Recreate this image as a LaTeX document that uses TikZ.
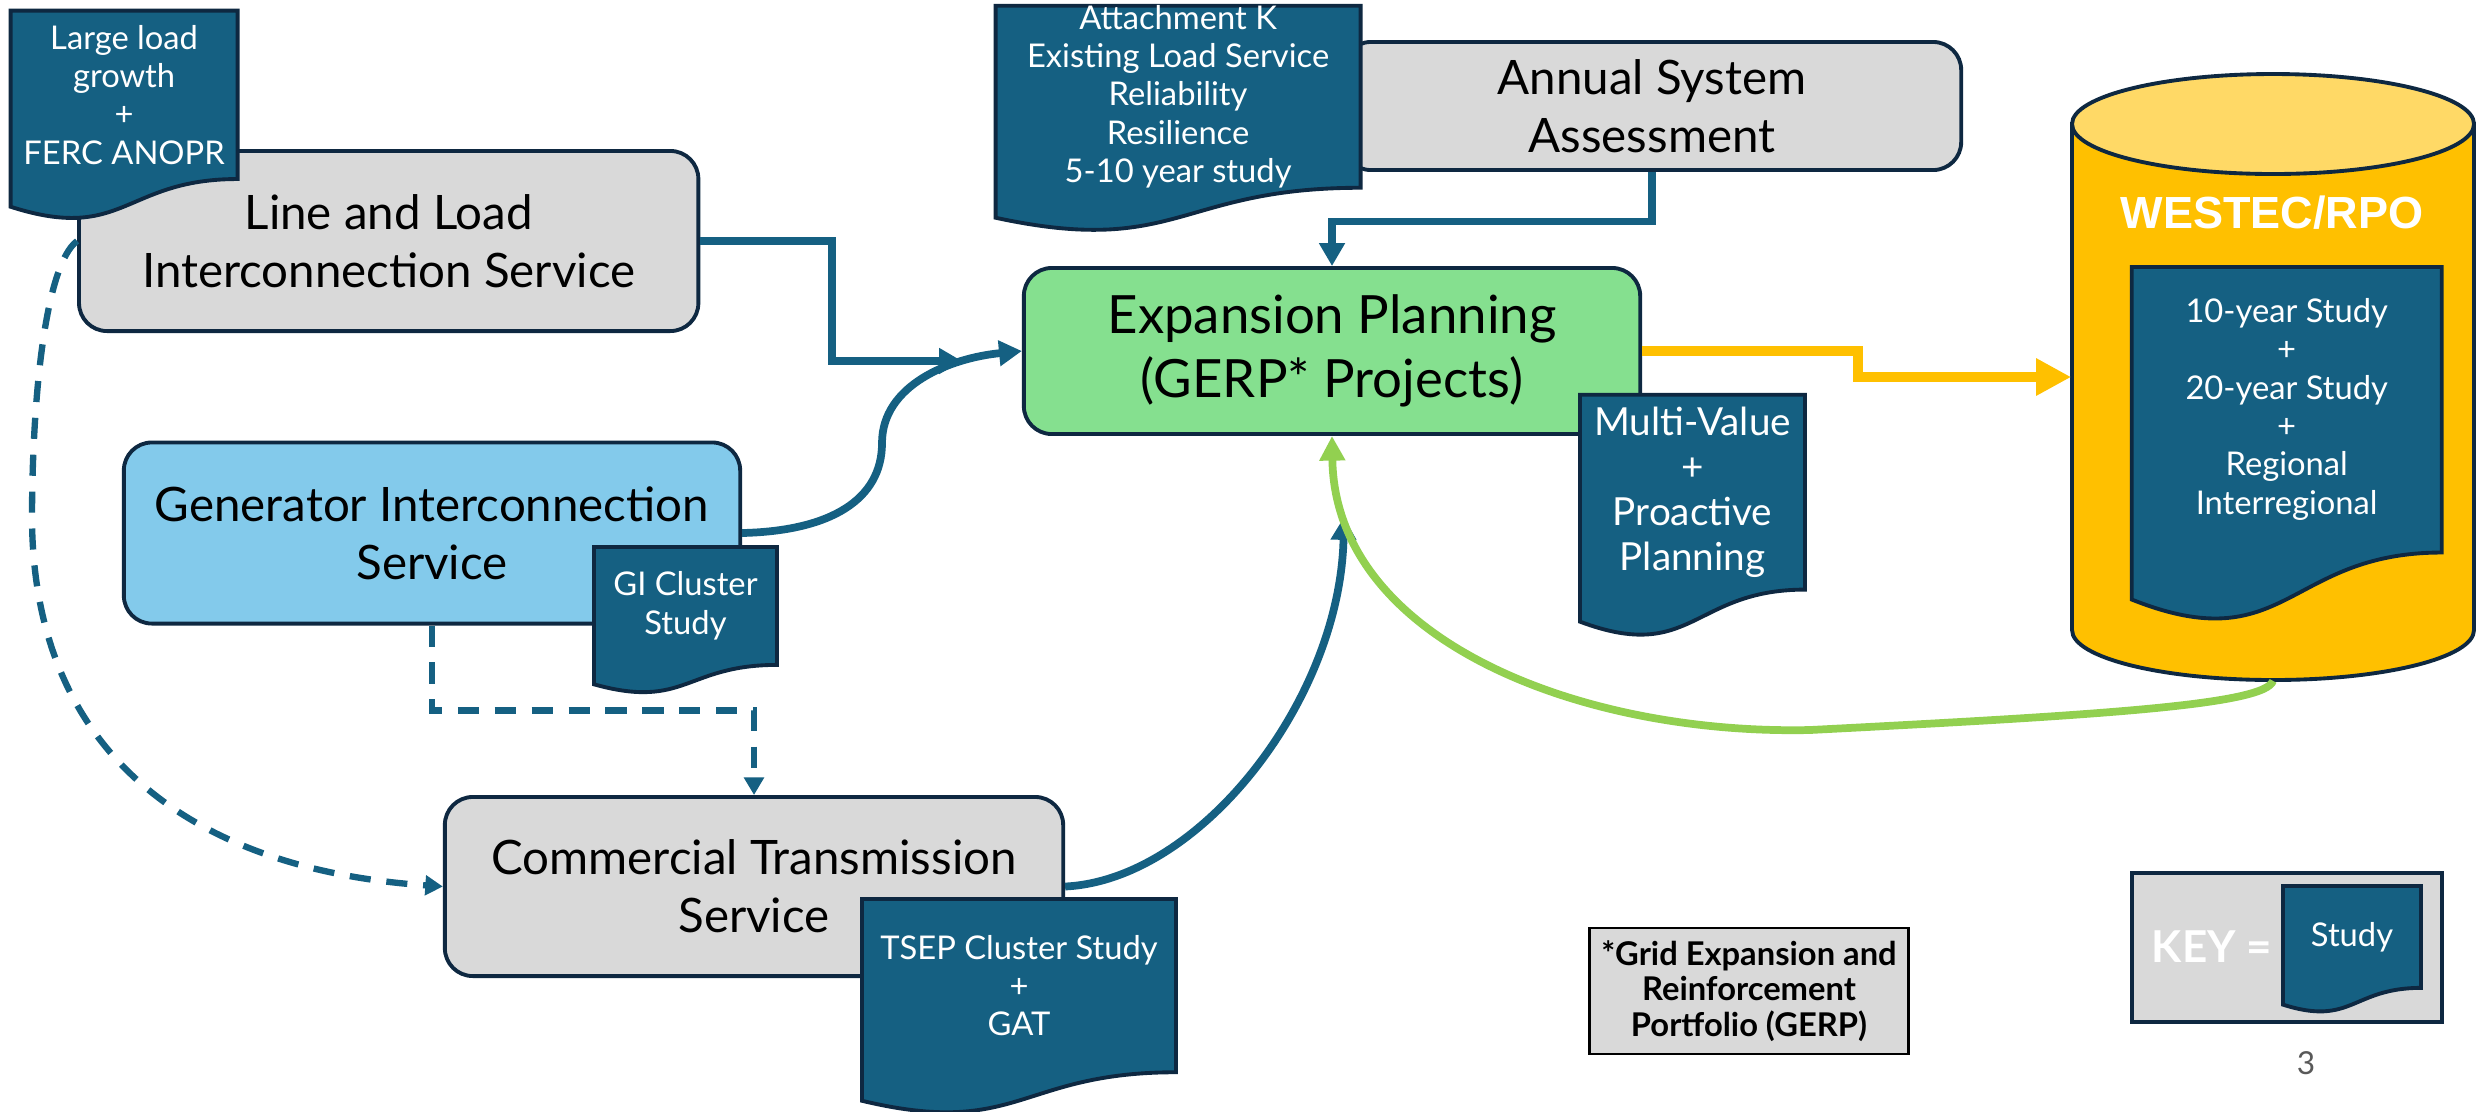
\documentclass[tikz,border=0pt]{standalone}
\usepackage{fontspec}
\usepackage{xcolor}
\setmainfont{Lato}
\newfontfamily\headfont{Liberation Sans}
\usetikzlibrary{arrows.meta}
\definecolor{NavyLine}{HTML}{0E2841}
\definecolor{StudyTeal}{HTML}{156082}
\definecolor{PanelGray}{HTML}{D9D9D9}
\definecolor{GenBlue}{HTML}{83CAEB}
\definecolor{PlanGreen}{HTML}{85E08F}
\definecolor{RpoGold}{HTML}{FFC000}
\definecolor{RpoTop}{HTML}{FFD966}
\definecolor{LoopGreen}{HTML}{92D050}
\definecolor{PageGray}{HTML}{595959}

\tikzset{
  service/.style={
    rounded corners=0.28cm,
    fill=PanelGray,
    draw=NavyLine,
    line width=1.1pt,
    inner sep=0pt,
    minimum width=6.18cm,
    align=center,
    font=\fontsize{13.5}{16.5}\selectfont
  },
  docshape/.style={fill=StudyTeal, draw=NavyLine, line width=1.1pt},
  doctext/.style={text=white, inner sep=0pt, align=center, font=\fontsize{9.3}{10.9}\selectfont},
  flow/.style={draw=StudyTeal, line width=2.2pt, -{Triangle[length=6.5pt,width=7pt]}},
  dashflow/.style={draw=StudyTeal, line width=1.8pt, dash pattern=on 6pt off 4.5pt, -{Triangle[length=5pt,width=5.5pt]}}
}

% study sheet: [text options]{name}{left}{top}{width}{height}{text}
\newcommand{\studydoc}[7][]{%
  \filldraw[docshape] (#3,#4) -- ({#3+#5},#4) -- ({#3+#5},{#4+0.802*#6})
    .. controls ({#3+0.5*#5},{#4+0.802*#6}) and ({#3+0.5*#5},{#4+1.1075*#6}) .. (#3,{#4+0.934*#6}) -- cycle;
  \node[doctext,#1] (#2) at ({#3+0.5*#5},{#4+0.4*#6}) {#7};
}

\begin{document}
\begin{tikzpicture}[x=0.01cm, y=-0.01cm]
    \fill[white] (0,0) rectangle (2476,1111);
    \useasboundingbox (0,0) rectangle (2476,1111);

    \node[service, minimum width=6.19cm, minimum height=1.80cm] (lineload) at (388.7,241) {Line and Load\\Interconnection Service};
    \node[service, minimum height=1.28cm] (annual) at (1652,106) {Annual System\\Assessment};
    \node[service, fill=GenBlue, minimum width=6.16cm, minimum height=1.81cm] (genint) at (432,533) {Generator Interconnection\\Service};
    \node[service, minimum height=1.79cm] (commtx) at (754,886.5) {Commercial Transmission\\Service};
    \node[
      service,
      fill=PlanGreen,
      minimum width=6.16cm,
      minimum height=1.66cm,
      font=\fontsize{15}{18.2}\selectfont
    ] (expplan) at (1332,351) {Expansion Planning\\(GERP* Projects)};

    \filldraw[fill=RpoGold, draw=NavyLine, line width=1.1pt] (2072,124) -- (2072,630)
      arc[start angle=180, end angle=0, x radius=201, y radius=50] -- (2474,124) -- cycle;
    \filldraw[fill=RpoTop, draw=NavyLine, line width=1.1pt] (2273,124) ellipse [x radius=201, y radius=50];
    \node[inner sep=0pt, minimum width=4.02cm, minimum height=6.06cm] (westec) at (2273,377) {};
    \node[text=white, font=\headfont\bfseries\fontsize{12.8}{15}\selectfont] (rpotitle) at (2272,213) {WESTEC/RPO};
    \studydoc{rpostudy}{2131.7}{267}{310}{356}{10-year Study\\+\\20-year Study\\+\\Regional\\Interregional}

    \studydoc{loadgrowth}{10.6}{10.6}{227}{210}{Large load\\growth\\+\\FERC ANOPR}
    \studydoc{attachk}{995.6}{5.7}{365}{227}{Attachment K\\Existing Load Service\\Reliability\\Resilience\\5-10 year study}
    \studydoc{gicluster}{594}{547}{183}{147}{GI Cluster\\Study}
    \studydoc[font=\fontsize{11}{12.8}\selectfont]{multivalue}{1580}{394.7}{225}{243}{Multi-Value\\+\\Proactive\\Planning}
    \studydoc{tsep}{862}{899}{314}{216}{TSEP Cluster Study\\+\\GAT}

    \node[
      fill=PanelGray,
      draw=black,
      line width=0.7pt,
      minimum width=3.14cm,
      minimum height=1.26cm,
      align=center,
      font=\bfseries\fontsize{9.3}{10}\selectfont
    ] (gerpnote) at (1749,991) {*Grid Expansion and\\Reinforcement\\Portfolio (GERP)};

    \node[fill=PanelGray, draw=NavyLine, line width=1.1pt, minimum width=3.10cm, minimum height=1.49cm] (keybox) at (2287,947.5) {};
    \node[text=white, font=\bfseries\fontsize{12.5}{15}\selectfont] (keylabel) at (2212,947) {KEY =};
    \studydoc{keydoc}{2283}{886}{138}{127}{Study}
    \node[text=PageGray, font=\fontsize{9}{11}\selectfont] (pagenum) at (2306,1063) {3};

    \coordinate (lineend) at (962,361);
    \coordinate (tsepend) at (1344,517);
    \draw[flow] (lineload.east) -- ++(132,0) |- (lineend);
    \draw[flow] (genint.east) .. controls (830,531) and (882,500) .. (882,443)
      .. controls (882,385) and (950,358) .. (expplan.west);
    \draw[flow] (annual.south) -- ++(0,49.5) -| (expplan.north);
    \draw[flow] (commtx.east) .. controls (1200,880) and (1340,700) .. (tsepend);
    \draw[dashflow] (genint.south) -- ++(0,85) -| (commtx.north);
    \draw[dashflow] (lineload.west) .. controls (45,265) and (32,400) .. (32,520)
      .. controls (34,760) and (200,870) .. (commtx.west);
    \draw[draw=RpoGold, line width=2.8pt, -{Triangle[length=10pt,width=10pt]}] (expplan.east) -- ++(216,0) |- (westec.west);
    \draw[draw=LoopGreen, line width=2.2pt, -{Triangle[length=7pt,width=7pt]}] (westec.south)
      .. controls (2265,705) and (2100,715) .. (1810,730)
      .. controls (1580,735) and (1335,640) .. (expplan.south);
\end{tikzpicture}
\end{document}
